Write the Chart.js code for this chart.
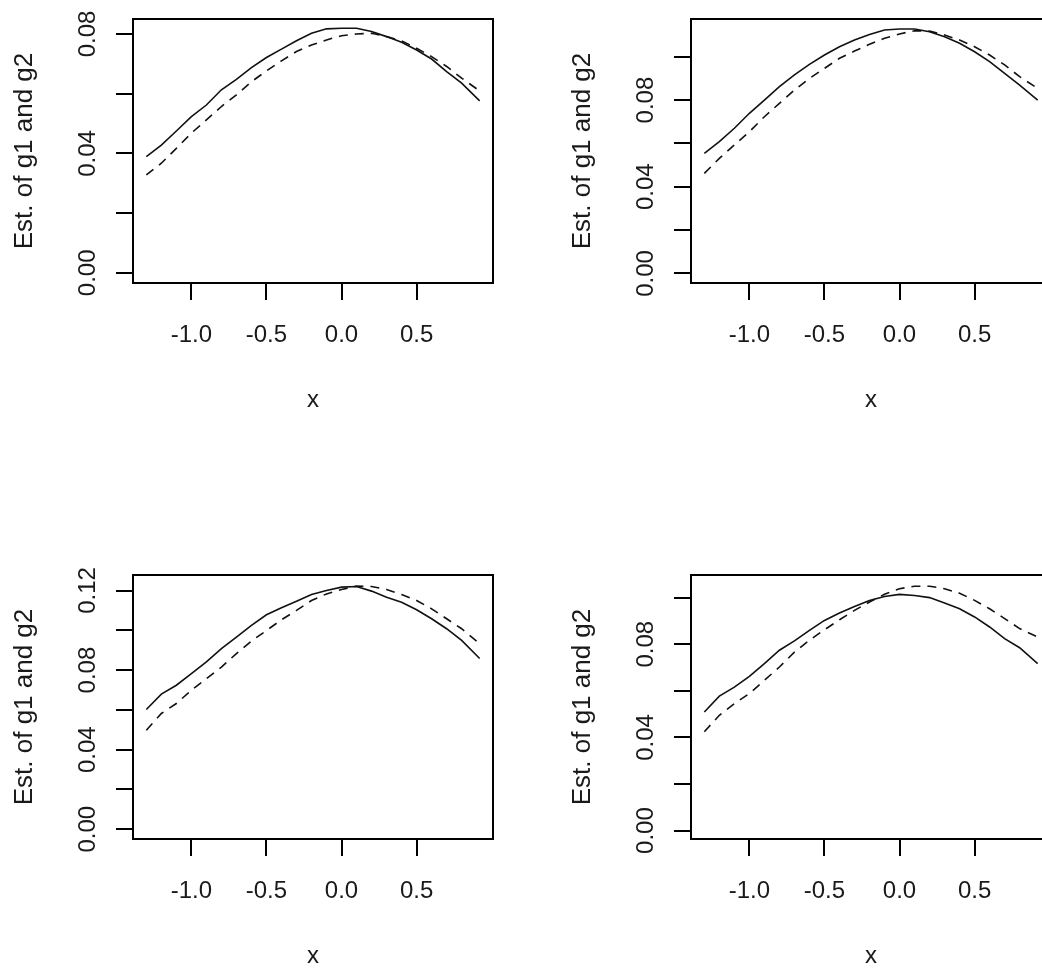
<!DOCTYPE html>
<html>
<head>
<meta charset="utf-8">
<script src="https://cdn.jsdelivr.net/npm/chart.js@4/dist/chart.umd.min.js"></script>
<style>
    html, body { margin: 0; padding: 0; background: #fff; overflow: hidden; }
    #figure { position: relative; width: 1042px; height: 971px; overflow: hidden; background: #fff; }
    #figure canvas { position: absolute; }
</style>
</head>
<body>
<div id="figure">
    <canvas id="panel1" width="521" height="420" style="left:0px;top:0px"></canvas>
    <canvas id="panel2" width="521" height="420" style="left:558px;top:0px"></canvas>
    <canvas id="panel3" width="521" height="420" style="left:0px;top:556px"></canvas>
    <canvas id="panel4" width="521" height="420" style="left:558px;top:556px"></canvas>
</div>
<script>
// x grid shared by all four panels
let xValues = [-1.3, -1.2, -1.1, -1.0, -0.9, -0.8, -0.7, -0.6, -0.5, -0.4, -0.3, -0.2, -0.1, 0.0, 0.1, 0.2, 0.3, 0.4, 0.5, 0.6, 0.7, 0.8, 0.92];

// panel 1 (top left)
let g1Panel1 = [0.0389, 0.0428, 0.0475, 0.0523, 0.0562, 0.0613, 0.0648, 0.0687, 0.0721, 0.0749, 0.0777, 0.0802, 0.0817, 0.0819, 0.0819, 0.0808, 0.0791, 0.0772, 0.0746, 0.0716, 0.0674, 0.0635, 0.0576];
let g2Panel1 = [0.0328, 0.0367, 0.0417, 0.0468, 0.0512, 0.0557, 0.0596, 0.0640, 0.0676, 0.0710, 0.0741, 0.0763, 0.0780, 0.0794, 0.0800, 0.0802, 0.0791, 0.0777, 0.0752, 0.0724, 0.0691, 0.0652, 0.0609];

// panel 2 (top right)
let g1Panel2 = [0.0554, 0.0608, 0.0670, 0.0739, 0.0800, 0.0862, 0.0916, 0.0965, 0.1008, 0.1046, 0.1077, 0.1103, 0.1123, 0.1128, 0.1128, 0.1115, 0.1092, 0.1062, 0.1023, 0.0977, 0.0923, 0.0869, 0.0800];
let g2Panel2 = [0.0462, 0.0531, 0.0593, 0.0654, 0.0723, 0.0785, 0.0846, 0.0900, 0.0946, 0.0993, 0.1026, 0.1057, 0.1085, 0.1105, 0.1120, 0.1118, 0.1100, 0.1077, 0.1046, 0.1008, 0.0962, 0.0908, 0.0854];

// panel 3 (bottom left)
let g1Panel3 = [0.0602, 0.0679, 0.0724, 0.0782, 0.0841, 0.0908, 0.0966, 0.1025, 0.1078, 0.1113, 0.1146, 0.1180, 0.1200, 0.1217, 0.1220, 0.1197, 0.1166, 0.1141, 0.1103, 0.1058, 0.1008, 0.0949, 0.0858];
let g2Panel3 = [0.0498, 0.0582, 0.0632, 0.0699, 0.0757, 0.0815, 0.0883, 0.0946, 0.0999, 0.1053, 0.1100, 0.1150, 0.1183, 0.1205, 0.1222, 0.1220, 0.1205, 0.1180, 0.1150, 0.1108, 0.1058, 0.1008, 0.0933];

// panel 4 (bottom right)
let g1Panel4 = [0.0509, 0.0577, 0.0616, 0.0662, 0.0717, 0.0774, 0.0814, 0.0859, 0.0902, 0.0934, 0.0962, 0.0988, 0.1005, 0.1014, 0.1009, 0.1000, 0.0977, 0.0952, 0.0917, 0.0874, 0.0824, 0.0785, 0.0717];
let g2Panel4 = [0.0424, 0.0495, 0.0545, 0.0588, 0.0645, 0.0702, 0.0766, 0.0817, 0.0862, 0.0905, 0.0945, 0.0981, 0.1014, 0.1038, 0.1049, 0.1049, 0.1038, 0.1019, 0.0988, 0.0952, 0.0910, 0.0867, 0.0831];

// axes
let xTicks = [-1.0, -0.5, 0.0, 0.5];
let xTickLabels = ['-1.0', '-0.5', '0.0', '0.5'];
let xLimits = [-1.3888, 1.0088];

let yTicksShort = [0, 0.02, 0.04, 0.06, 0.08];
let yLabelsShort = ['0.00', '', '0.04', '', '0.08'];
let yTicksMid = [0, 0.02, 0.04, 0.06, 0.08, 0.10];
let yLabelsMid = ['0.00', '', '0.04', '', '0.08', ''];
let yTicksLong = [0, 0.02, 0.04, 0.06, 0.08, 0.10, 0.12];
let yLabelsLong = ['0.00', '', '0.04', '', '0.08', '', '0.12'];

let yLimits1 = [-0.0034, 0.0850];
let yLimits2 = [-0.0044, 0.1174];
let yLimits3 = [-0.0049, 0.1278];
let yLimits4 = [-0.0036, 0.1097];

let xTitle = 'x';
let yTitle = 'Est. of g1 and g2';

let textColor = '#1a1a1a';
let fontFamily = '"Liberation Sans", Arial, sans-serif';

// R style box round the plot region
let boxPlugin = {
    id: 'box',
    afterDraw(chart) {
        let a = chart.chartArea;
        let ctx = chart.ctx;
        ctx.save();
        ctx.strokeStyle = '#000';
        ctx.lineWidth = 2;
        ctx.strokeRect(a.left, a.top, a.right - a.left, a.bottom - a.top);
        ctx.restore();
    }
};

function toPoints(values) {
    return values.map((v, i) => ({ x: xValues[i], y: v }));
}

function drawPanel(canvasId, g1, g2, yTicks, yLabels, yLimits) {
    let canvas = document.getElementById(canvasId);
    let ctx = canvas.getContext('2d');
    new Chart(ctx, {
        type: 'line',
        data: {
            datasets: [{
                label: 'g1',
                data: toPoints(g1),
                borderColor: '#111',
                borderWidth: 1.6,
                pointRadius: 0,
                tension: 0,
                fill: false
            }, {
                label: 'g2',
                data: toPoints(g2),
                borderColor: '#111',
                borderWidth: 1.6,
                borderDash: [9, 7],
                pointRadius: 0,
                tension: 0,
                fill: false
            }]
        },
        options: {
            responsive: false,
            animation: false,
            devicePixelRatio: 1,
            layout: { padding: { top: 19, right: 28, bottom: 0, left: 0 } },
            plugins: {
                legend: { display: false },
                tooltip: { enabled: false }
            },
            scales: {
                x: {
                    type: 'linear',
                    position: 'bottom',
                    min: xLimits[0],
                    max: xLimits[1],
                    afterBuildTicks: axis => { axis.ticks = xTicks.map(v => ({ value: v })); },
                    afterFit: axis => { axis.height = 137; },
                    border: { display: true, color: '#000', width: 2 },
                    grid: { drawOnChartArea: false, drawTicks: true, tickLength: 17, color: '#000', lineWidth: 2 },
                    ticks: {
                        padding: 21,
                        maxRotation: 0,
                        autoSkip: false,
                        color: textColor,
                        font: { family: fontFamily, size: 24 },
                        callback: (value, index) => xTickLabels[index]
                    },
                    title: {
                        display: true,
                        text: xTitle,
                        color: textColor,
                        font: { family: fontFamily, size: 24 },
                        padding: { top: 0, bottom: 5 }
                    }
                },
                y: {
                    type: 'linear',
                    position: 'left',
                    min: yLimits[0],
                    max: yLimits[1],
                    afterBuildTicks: axis => { axis.ticks = yTicks.map(v => ({ value: v })); },
                    afterFit: axis => { axis.width = 133; },
                    border: { display: true, color: '#000', width: 2 },
                    grid: { drawOnChartArea: false, drawTicks: true, tickLength: 17, color: '#000', lineWidth: 2 },
                    ticks: {
                        padding: 4,
                        minRotation: 90,
                        maxRotation: 90,
                        crossAlign: 'center',
                        autoSkip: false,
                        color: textColor,
                        font: { family: fontFamily, size: 24 },
                        callback: (value, index) => yLabels[index]
                    },
                    title: {
                        display: true,
                        text: yTitle,
                        color: textColor,
                        font: { family: fontFamily, size: 26 },
                        padding: { top: 9, bottom: 0 }
                    }
                }
            }
        },
        plugins: [boxPlugin]
    });
}

drawPanel('panel1', g1Panel1, g2Panel1, yTicksShort, yLabelsShort, yLimits1);
drawPanel('panel2', g1Panel2, g2Panel2, yTicksMid, yLabelsMid, yLimits2);
drawPanel('panel3', g1Panel3, g2Panel3, yTicksLong, yLabelsLong, yLimits3);
drawPanel('panel4', g1Panel4, g2Panel4, yTicksMid, yLabelsMid, yLimits4);
</script>
</body>
</html>
